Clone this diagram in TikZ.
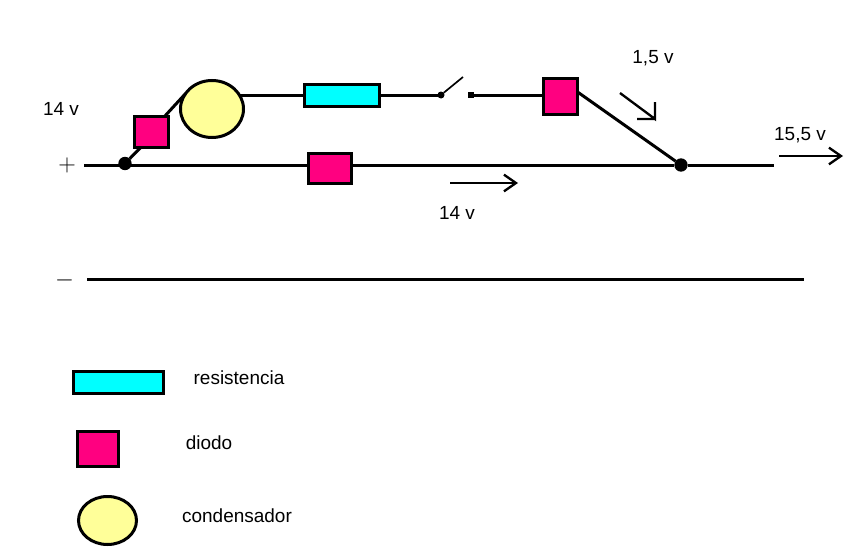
\documentclass[tikz,border=0pt]{standalone}
\usepackage{fontspec}
\setmainfont{Liberation Sans}
\usetikzlibrary{shapes.geometric}
\usetikzlibrary{arrows.meta}
\definecolor{diodecol}{RGB}{255,0,128}
\definecolor{rescol}{RGB}{0,255,255}
\definecolor{capcol}{RGB}{255,255,153}
\begin{document}
\begin{tikzpicture}[x=0.03cm, y=-0.03cm, line width=0.09cm, >={Straight Barb[length=0.36cm, width=0.5cm]}, font=\fontsize{16.2}{18}\selectfont, outer sep=0pt]
    \tikzstyle{diode}=[draw=black,rectangle,fill=diodecol,inner sep=0pt]
    \tikzstyle{resistor}=[draw=black,rectangle,fill=rescol,inner sep=0pt]
    \tikzstyle{capacitor}=[draw=black,ellipse,fill=capcol,inner sep=0pt]
    \tikzstyle{junction}=[circle,fill=black,minimum size=0.4cm,inner sep=0pt]
    \tikzstyle{pin}=[circle,fill=black,minimum size=0.21cm,inner sep=0pt]
    \tikzstyle{contact}=[rectangle,fill=black,minimum size=0.19cm,inner sep=0pt]
    \tikzstyle{flow}=[->, line width=0.07cm]
    \tikzstyle{label}=[inner sep=0pt]

    \useasboundingbox (0,0) rectangle (854,560);

    % circuit
    \coordinate (plusend) at (84,165);
    \coordinate (plusout) at (774,165);
    \coordinate (minusin) at (87,279);
    \coordinate (minusout) at (804,279);
    \node[junction] (jleft) at (125,163.5) {};
    \node[junction] (jright) at (681,165) {};
    \node[diode, minimum width=1.02cm, minimum height=0.93cm] (dleft) at (151.5,132) {};
    \node[capacitor, minimum width=1.89cm, minimum height=1.71cm] (cap) at (212,109) {};
    \node[resistor, minimum width=2.25cm, minimum height=0.66cm] (res) at (342,95) {};
    \node[pin] (swa) at (441,95) {};
    \coordinate (swblade) at (463,77);
    \node[contact] (swb) at (471,95) {};
    \node[diode, minimum width=1.02cm, minimum height=1.08cm] (dright) at (560.5,96.5) {};
    \node[diode, minimum width=1.29cm, minimum height=0.90cm] (dmain) at (330,168) {};

    \draw (plusend) -- (dmain.west |- plusend);
    \draw (dmain.east |- plusout) -- (jright);
    \draw (jright) -- (plusout);
    \draw (jleft) -- (dleft.235);
    \draw (dleft.50) -- (cap.150);
    \draw (cap.east |- res) ++(-4,0) -- (res.west);
    \draw (res.east) -- (swa);
    \draw[line width=0.05cm] (swa) -- (swblade);
    \draw (swb) -- (dright.west |- swb);
    \draw (dright.15) -- (jright);
    \draw (minusin) -- (minusout);

    % arrows
    \coordinate (a1) at (620,93);
    \coordinate (a2) at (655,119);
    \coordinate (b1) at (450,183);
    \coordinate (b2) at (518,183);
    \coordinate (c1) at (779,156);
    \coordinate (c2) at (843,156);
    \draw[line width=0.07cm] (a1) -- (a2) -- ++(0,-17) (a2) -- ++(-18,0);
    \draw[flow] (b1) -- (b2);
    \draw[flow] (c1) -- (c2);

    % texts
    \node[label] (lplus) at (67,165) {\fontsize{22}{22}\selectfont $+$};
    \node[label] (lminus) at (64.5,280) {\fontsize{22}{22}\selectfont $-$};
    \node[label] (l14a) at (61,109) {14 v};
    \node[label] (l15) at (653,58) {1,5 v};
    \node[label] (l155) at (800,135) {15,5 v};
    \node[label] (l14b) at (457,213) {14 v};

    % legend
    \node[resistor, minimum width=2.7cm, minimum height=0.66cm] (kres) at (118.5,382.5) {};
    \node[diode, minimum width=1.23cm, minimum height=1.05cm] (kdiode) at (98,449) {};
    \node[capacitor, minimum width=1.74cm, minimum height=1.44cm] (kcap) at (107.5,520.5) {};
    \node[label] (tres) at (239,378) {resistencia};
    \node[label] (tdiode) at (209,443) {diodo};
    \node[label] (tcap) at (237,516) {condensador};
\end{tikzpicture}
\end{document}
